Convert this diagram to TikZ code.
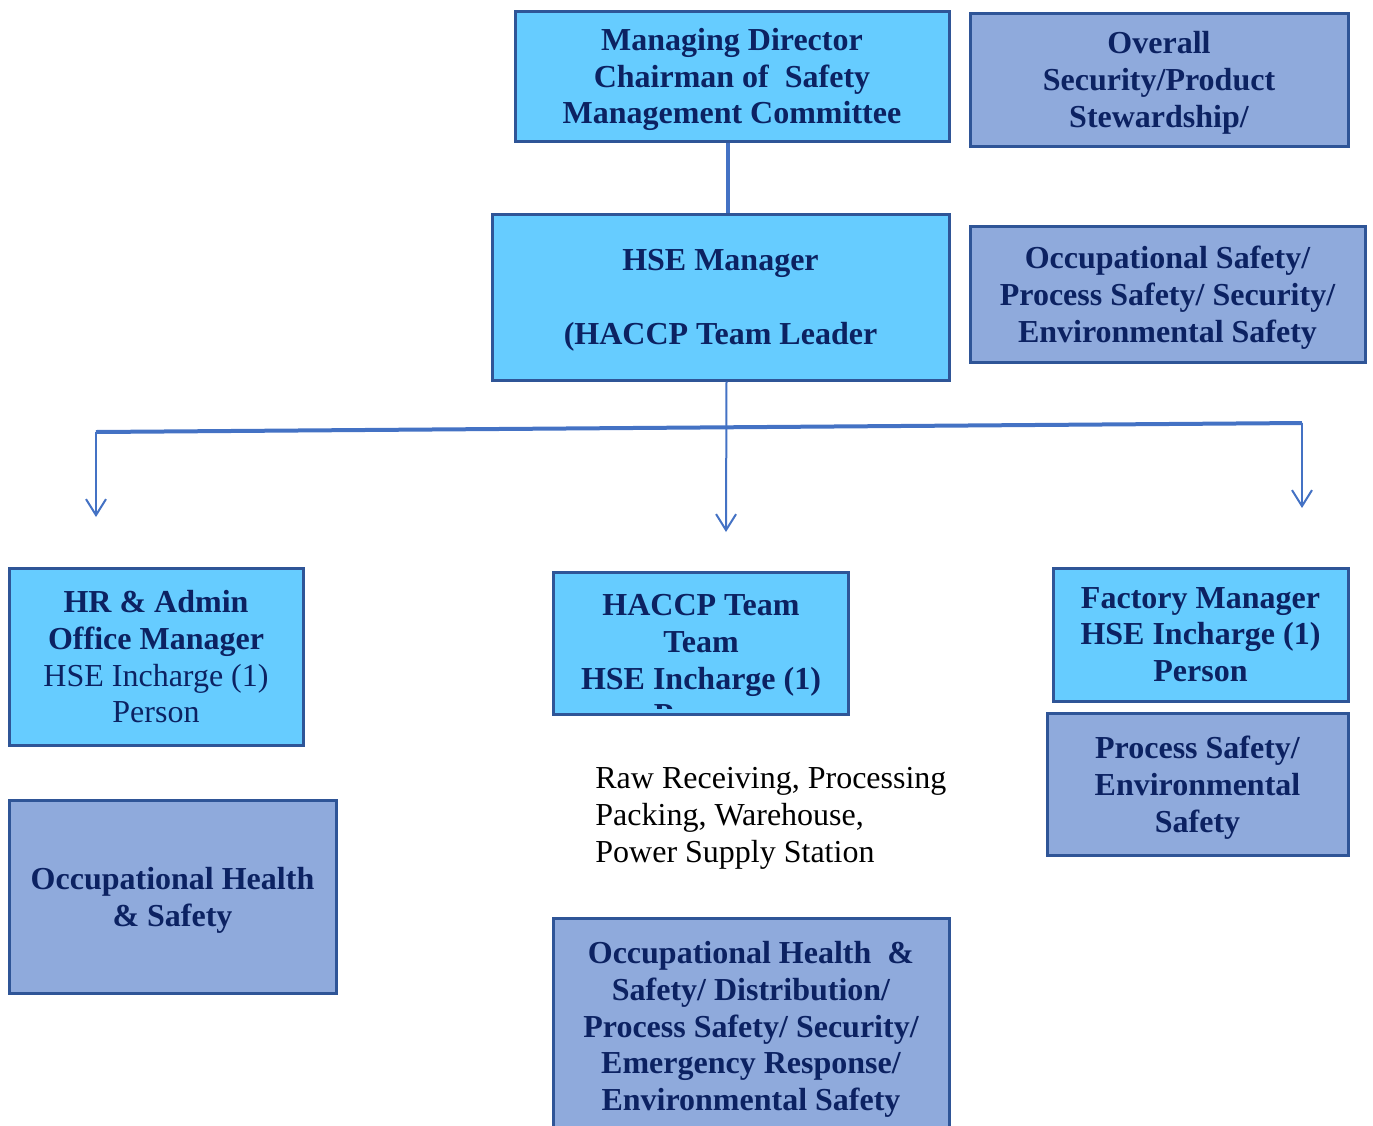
\documentclass[tikz,border=0pt]{standalone}
\usepackage{fontspec}
\setmainfont{Liberation Serif}
\usetikzlibrary{arrows.meta}

\definecolor{cyanbox}{HTML}{66CCFF}
\definecolor{lilac}{HTML}{8FAADC}
\definecolor{boxline}{HTML}{2F5597}
\definecolor{linkblue}{HTML}{4472C4}
\definecolor{navy}{HTML}{0C2262}

\tikzset{
 upbox/.style={draw=boxline, fill=cyanbox, line width=1.5pt, align=center,
   font=\fontsize{16}{18.4}\selectfont\bfseries, text=navy, inner sep=0pt,
   text depth=0pt, execute at begin node={\rule{0pt}{14pt}}},
 lowbox/.style={upbox, fill=lilac},
 link/.style={draw=linkblue, line width=2pt},
 drop/.style={draw=linkblue, line width=1pt, -{Straight Barb[length=8pt,width=10pt]}}
}

\begin{document}
\begin{tikzpicture}[x=0.5pt, y=-0.5pt]
\clip (0,0) rectangle (1373,1126);
% top row
\node[upbox, minimum width=217pt, minimum height=65pt] (md) at (732,76)
  {Managing Director\\Chairman of\ \ Safety\\Management Committee};
\node[lowbox, minimum width=189pt, minimum height=66.5pt] (overall) at (1159,79.5)
  {Overall\\Security/Product\\Stewardship/};
\node[upbox, minimum width=228.5pt, minimum height=83pt] (hse) at (720.5,297)
  {HSE Manager\\ \\(HACCP Team Leader};
\node[lowbox, minimum width=197.5pt, minimum height=68pt] (occsafe) at (1167.5,294)
  {Occupational Safety/\\Process Safety/ Security/\\Environmental Safety};
\draw[link] ([xshift=-2pt]md.south) -- ([xshift=-2pt]md.south |- hse.north);

% branches
\coordinate (lt) at (96,432);
\coordinate (rt) at (1302,423);
\coordinate (ltip) at (96,517);
\coordinate (mtip) at (726,532);
\coordinate (rtip) at (1302,508);
\draw[link] (lt) -- (rt);
\draw[drop] ([xshift=3pt]hse.south) -- (mtip);
\draw[drop] (lt) -- (ltip);
\draw[drop] (rt) -- (rtip);

% left column
\node[upbox, minimum width=147pt, minimum height=88.5pt] (hr) at (156,656.5)
  {HR \& Admin\\Office Manager\\{\mdseries HSE Incharge (1)}\\{\mdseries Person}};
\node[lowbox, minimum width=163.5pt, minimum height=96.5pt] (occhealth) at (172.5,896.5)
  {Occupational Health\\\& Safety};

% middle column
\node[upbox, minimum width=147.5pt, minimum height=71pt] (haccp) at (700.5,643) {};
\begin{scope}
\clip (555,574) rectangle (846,708);
\node[upbox, draw=none, fill=none] (haccptext) at (701,660)
  {HACCP Team\\Team\\HSE Incharge (1)\\Person};
\end{scope}
\node[anchor=base west, align=left, inner sep=0pt,
  font=\fontsize{16}{18.4}\selectfont] (areas) at (595,862)
  {Raw Receiving, Processing\\Packing, Warehouse,\\Power Supply Station};
\node[lowbox, minimum width=198pt, minimum height=116.5pt, anchor=north] (dist) at (751,917)
  {};
\node[upbox, draw=none, fill=none] (disttext) at (751,1026)
  {Occupational Health\ \ \&\\Safety/ Distribution/\\Process Safety/ Security/\\Emergency Response/\\Environmental Safety};

% right column
\node[upbox, minimum width=147.5pt, minimum height=66.5pt] (factory) at (1200.5,634.5)
  {Factory Manager\\HSE Incharge (1)\\Person};
\node[lowbox, minimum width=150.5pt, minimum height=71pt] (process) at (1197.5,784)
  {Process Safety/\\Environmental\\Safety};
\end{tikzpicture}
\end{document}
